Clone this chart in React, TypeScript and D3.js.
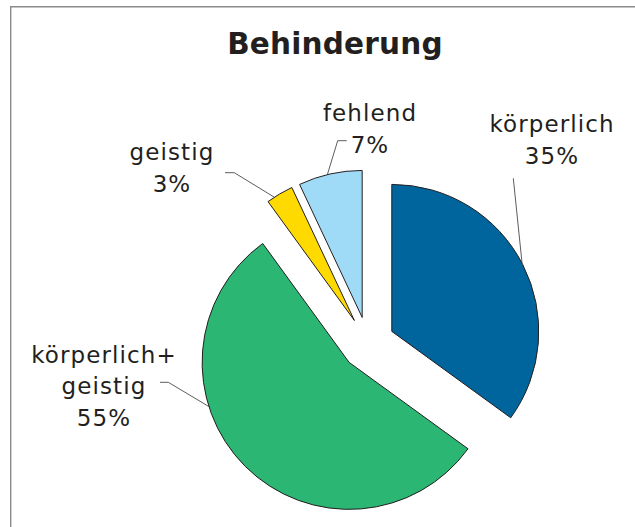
import React from "react";
import * as d3 from "d3";

const categories = ["körperlich", "körperlich+geistig", "geistig", "fehlend"];
const values = [35, 55, 3, 7];
const labelLines = [
  ["körperlich", "35%"],
  ["körperlich+", "geistig", "55%"],
  ["geistig", "3%"],
  ["fehlend", "7%"],
];
const colors = ["#00659d", "#2bb673", "#ffda00", "#9fdbf7"];
const title = "Behinderung";

// layout (not data)
const W = 635;
const H = 527;
const CX = 368;
const CY = 343.5;
const R = 147;
const EXPLODE = 26.7;
const labelPos = [
  { x: 552, y: 132, dy: 31.5 },
  { x: 104, y: 362.5, dy: 31.5 },
  { x: 172, y: 160, dy: 31.5 },
  { x: 370, y: 121, dy: 32 },
];
// leader: angle (deg) where line touches the arc, and start points
const leaders = [
  { angle: 62.4, pts: [[513.3, 178.3]] },
  { angle: 252.5, pts: [[160, 382.3], [168.3, 382.3]] },
  { angle: 327, pts: [[225, 172.7], [234.3, 172.7]] },
  { angle: 346.3, pts: [[346.7, 140.7], [337.7, 140.7]] },
];

export default function App() {
  const pie = d3
    .pie<number>()
    .sort(null)
    .value((d) => d)
    .startAngle(0)
    .endAngle(2 * Math.PI);
  const arcs = pie(values);
  const arcGen = d3.arc<d3.PieArcDatum<number>>().innerRadius(0).outerRadius(R);

  const font = "'DejaVu Sans', sans-serif";

  return (
    <svg
      width={W}
      height={H}
      style={{ position: "absolute", left: 0, top: 0, background: "#fff" }}
    >
      <rect x={0} y={0} width={W} height={H} fill="#fff" />
      <path d={`M10.7,${H} L10.7,6.7 L${W},6.7`} fill="none" stroke="#8a8a8a" strokeWidth={1.4} />
      <text
        x={335}
        y={53.5}
        textAnchor="middle"
        fontFamily={font}
        fontWeight="bold"
        fontSize={29.5}
        letterSpacing={0.2}
        fill="#231f20"
      >
        {title}
      </text>
      {arcs.map((a, i) => {
        const mid = (a.startAngle + a.endAngle) / 2;
        const ox = CX + EXPLODE * Math.sin(mid);
        const oy = CY - EXPLODE * Math.cos(mid);
        const la = (leaders[i].angle * Math.PI) / 180;
        const ex = ox + R * Math.sin(la);
        const ey = oy - R * Math.cos(la);
        const pts = [...leaders[i].pts, [ex, ey]];
        const line = d3.line()(pts as [number, number][]) || "";
        return (
          <g key={categories[i]}>
            <path
              d={arcGen(a) || ""}
              transform={`translate(${ox},${oy})`}
              fill={colors[i]}
              stroke="#231f20"
              strokeWidth={1}
              strokeLinejoin="miter"
            />
            <path d={line} fill="none" stroke="#333" strokeWidth={0.8} />
            <text
              textAnchor="middle"
              fontFamily={font}
              fontSize={23}
              letterSpacing={1.1}
              fill="#231f20"
            >
              {labelLines[i].map((t, j) => (
                <tspan key={j} x={labelPos[i].x} y={labelPos[i].y + j * labelPos[i].dy}>
                  {t}
                </tspan>
              ))}
            </text>
          </g>
        );
      })}
    </svg>
  );
}
